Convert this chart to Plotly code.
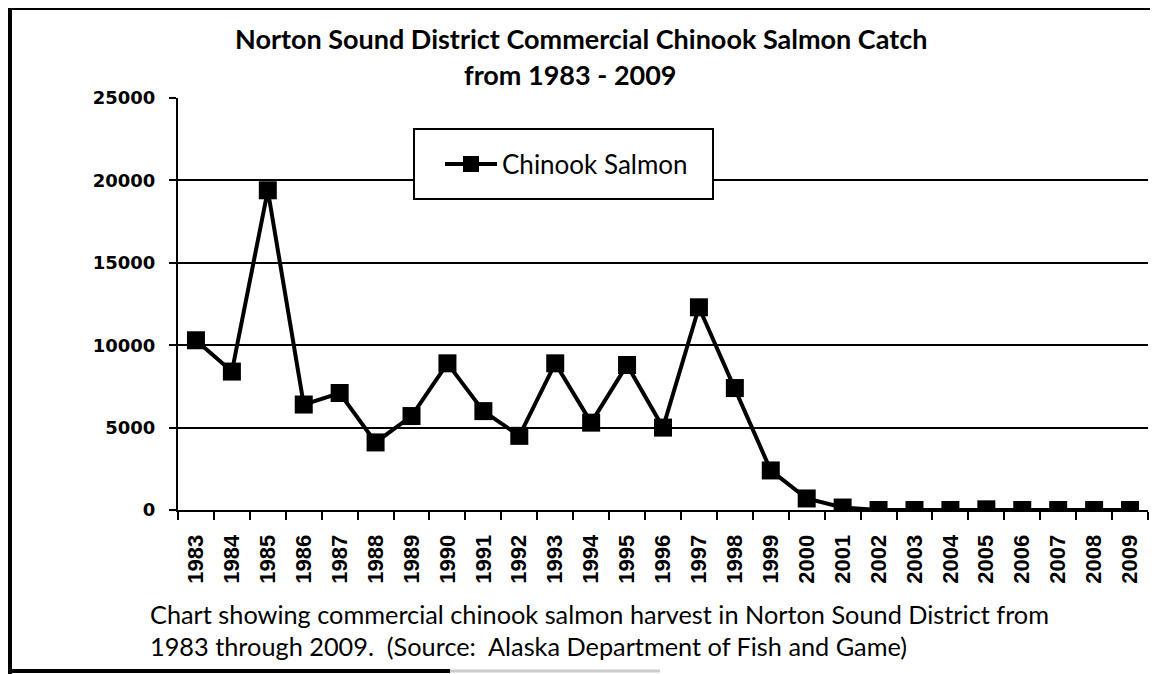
import plotly.graph_objects as go

years = [str(y) for y in range(1983, 2010)]
catch = [10300, 8400, 19400, 6400, 7100, 4100, 5700, 8900, 6000, 4500,
         8900, 5300, 8800, 5000, 12300, 7400, 2400, 700, 150, 0,
         0, 0, 40, 0, 0, 0, 0]
series_name = "Chinook Salmon"
title_line1 = "Norton Sound District Commercial Chinook Salmon Catch"
title_line2 = "from 1983 - 2009"
caption_line1 = "Chart showing commercial chinook salmon harvest in Norton Sound District from"
caption_line2 = "1983 through 2009.  (Source:  Alaska Department of Fish and Game)"
y_ticks = [0, 5000, 10000, 15000, 20000, 25000]

# page body has an 8px default margin; work in reference-image pixels
OFF = 8
W, H = 1158 - OFF, 674 - OFF
PLOT_L, PLOT_R, PLOT_T, PLOT_B = 178, 1140, 98, 510  # reference pixels
L = PLOT_L - OFF
T = PLOT_T - OFF
R = 1158 - PLOT_R - OFF
B = H - (PLOT_B - OFF)
PW = W - L - R
PH = H - T - B


def px(xp):
    return (xp - PLOT_L) / PW


def py(yp):
    return (PLOT_B - yp) / PH


fig = go.Figure()
fig.add_trace(go.Scatter(
    x=years, y=catch, name=series_name, mode="lines+markers",
    line=dict(color="black", width=4),
    marker=dict(symbol="square", size=18, color="black"),
))

shapes = [
    dict(type="line", xref="paper", yref="paper", x0=px(9), x1=px(9), y0=py(6), y1=py(676),
         line=dict(color="black", width=6)),
    dict(type="line", xref="paper", yref="paper", x0=px(6), x1=px(1160), y0=py(8), y1=py(8),
         line=dict(color="black", width=4)),
    dict(type="line", xref="paper", yref="paper", x0=px(6), x1=px(450), y0=py(671), y1=py(671),
         line=dict(color="black", width=4)),
    dict(type="line", xref="paper", yref="paper", x0=px(450), x1=px(660), y0=py(671), y1=py(671),
         line=dict(color="#cccccc", width=3)),
    dict(type="rect", xref="paper", yref="paper", x0=px(414), x1=px(713), y0=py(199), y1=py(129),
         fillcolor="white", line=dict(color="black", width=2), layer="above"),
]

annotations = [
    dict(text=title_line1, xref="paper", yref="paper", x=px(581), y=py(38),
         xanchor="center", yanchor="middle", showarrow=False,
         font=dict(family="Lato", size=27, color="black", weight="bold")),
    dict(text=title_line2, xref="paper", yref="paper", x=px(570), y=py(75),
         xanchor="center", yanchor="middle", showarrow=False,
         font=dict(family="Lato", size=27, color="black", weight="bold")),
    dict(text=caption_line1, xref="paper", yref="paper", x=px(148), y=py(614),
         xanchor="left", yanchor="middle", showarrow=False,
         font=dict(family="Lato", size=25.3, color="black")),
    dict(text=caption_line2, xref="paper", yref="paper", x=px(148), y=py(646),
         xanchor="left", yanchor="middle", showarrow=False,
         font=dict(family="Lato", size=25.3, color="black")),
]

fig.update_layout(
    width=W, height=H,
    margin=dict(l=L, r=R, t=T, b=B),
    paper_bgcolor="white", plot_bgcolor="white",
    showlegend=True,
    legend=dict(x=px(440), y=py(164), xanchor="left", yanchor="middle",
                bgcolor="rgba(0,0,0,0)", borderwidth=0, itemwidth=52,
                font=dict(family="Lato", size=26, color="black")),
    shapes=shapes,
    annotations=annotations,
)
fig.update_xaxes(
    type="category", range=[-0.5, len(years) - 0.5],
    showline=True, linecolor="black", linewidth=2,
    ticks="outside", tickson="boundaries", ticklen=8, tickcolor="black", tickwidth=1.5,
    tickangle=-90, showgrid=False, ticklabelstandoff=14,
    tickfont=dict(family="Liberation Sans", size=22, color="black", weight="bold"),
)
fig.update_yaxes(
    range=[0, 25000], tickvals=y_ticks, ticktext=[str(v) for v in y_ticks],
    showline=True, linecolor="black", linewidth=2,
    ticks="outside", ticklen=7, tickcolor="black", tickwidth=1.5,
    showgrid=True, gridcolor="black", gridwidth=1.5, zeroline=False,
    ticklabelstandoff=10,
    tickfont=dict(family="DejaVu Sans", size=18, color="black", weight="bold"),
)

fig.write_html("out.html")
